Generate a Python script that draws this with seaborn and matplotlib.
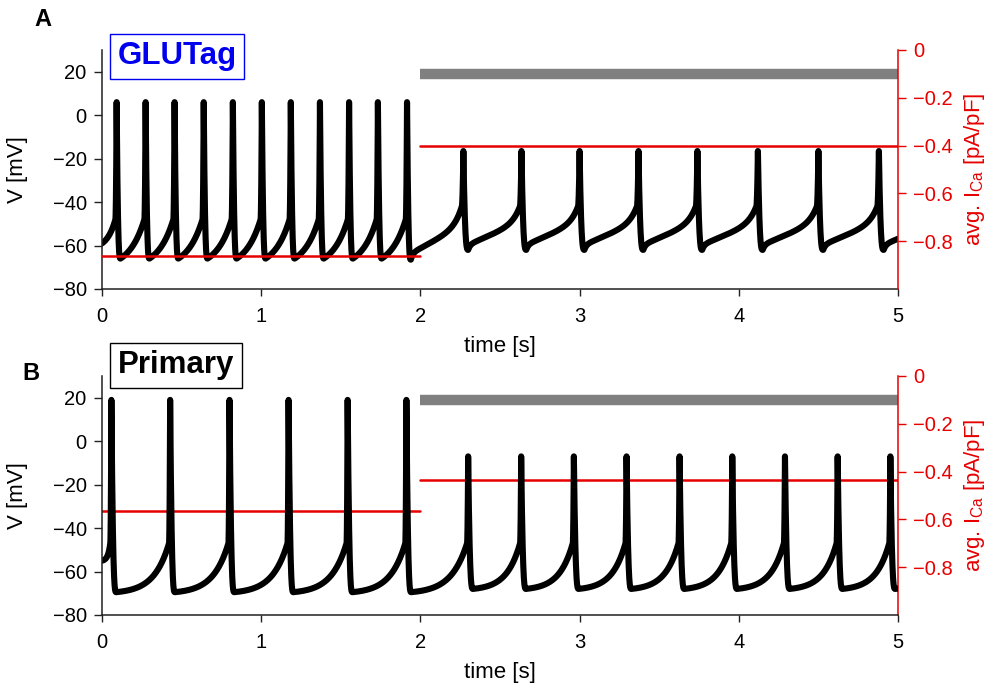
import numpy as np
import pandas as pd
import matplotlib
matplotlib.use("Agg")
import matplotlib.pyplot as plt
import seaborn as sns

# ---------------- data ----------------
stim_on = 2.0
t_end = 5.0

# Panel A: GLUTag
glutag_spike_t = [0.092, 0.274, 0.456, 0.639, 0.822, 1.004, 1.186, 1.369, 1.552, 1.733, 1.916,
                  2.270, 2.635, 3.000, 3.370, 3.740, 4.120, 4.500, 4.880]
glutag_peak = [6, 6, 6, 6, 6, 6, 6, 6, 6, 6, 6,
               -16.5, -16.5, -16.5, -16.5, -16.5, -16.5, -16.5, -16.5]
glutag_trough = [-66, -66, -66, -66, -66, -66, -66, -66, -66, -66, -66.5,
                 -62, -62, -62, -62, -62, -62, -62, -62]
glutag_thresh = [-48, -48, -48, -48, -48, -48, -48, -48, -48, -48, -48,
                 -42, -42, -42, -42, -42, -42, -42, -42]
glutag_v0 = -59.0
glutag_ica_start = [0.0, 2.0]
glutag_ica_stop = [2.0, 5.0]
glutag_ica = [-0.86, -0.40]

# Panel B: Primary
primary_spike_t = [0.059, 0.428, 0.801, 1.172, 1.543, 1.912,
                   2.300, 2.633, 2.964, 3.295, 3.628, 3.959, 4.290, 4.621, 4.952]
primary_peak = [19, 19, 19, 19, 19, 19,
                -7, -7, -7, -7, -7, -7, -7, -7, -7]
primary_trough = [-69.5, -69.5, -69.5, -69.5, -69.5, -69.5,
                  -68, -68, -68, -68, -68, -68, -68, -68, -68]
primary_thresh = [-47, -47, -47, -47, -47, -47,
                  -47, -47, -47, -47, -47, -47, -47, -47, -47]
primary_v0 = -55.0
primary_ica_start = [0.0, 2.0]
primary_ica_stop = [2.0, 5.0]
primary_ica = [-0.565, -0.435]

stim_level = -0.10  # grey bar position on the current axis

# waveform shape parameters (style of the trace between read values)
glutag_shape = [
    dict(kind="exp", k=1.6, du=0.008, df=0.024, period=0.182),
    dict(kind="mixed", a=0.12, b=0.50, c=0.38, tau=0.04, k=7.0, du=0.010, df=0.030, period=0.375),
]
primary_shape = [
    dict(kind="exp", k=3.5, du=0.007, df=0.030, period=0.371),
    dict(kind="exp", k=3.5, du=0.007, df=0.030, period=0.331),
]


def shape_frac(s, p):
    if p["kind"] == "exp":
        return np.expm1(p["k"] * s) / np.expm1(p["k"])
    a, b, c, tau, k = p["a"], p["b"], p["c"], p["tau"], p["k"]
    return (a * (-np.expm1(-s / tau)) / (-np.expm1(-1 / tau))
            + b * s + c * np.expm1(k * s) / np.expm1(k))


def build_trace(spike_t, peaks, troughs, threshs, v0, shapes):
    T, V = [], []
    ph = [shapes[int(t > stim_on)] for t in spike_t]
    n = len(spike_t)
    p0 = ph[0]
    ta, tb = 0.0, spike_t[0] - p0["du"]
    tt = np.linspace(ta, tb, 200)
    s = (tt - ta) / (tb - ta)
    T.append(tt); V.append(v0 + (threshs[0] - v0) * shape_frac(s, p0))
    for i in range(n):
        p = ph[i]
        tt = np.linspace(spike_t[i] - p["du"], spike_t[i], 30)
        u = (tt - tt[0]) / (tt[-1] - tt[0])
        T.append(tt); V.append(threshs[i] + (peaks[i] - threshs[i]) * u ** 2)
        tt = np.linspace(spike_t[i], spike_t[i] + p["df"], 40)
        u = (tt - tt[0]) / (tt[-1] - tt[0])
        T.append(tt); V.append(peaks[i] + (troughs[i] - peaks[i]) * (1 - (1 - u) ** 3))
        ta = spike_t[i] + p["df"]
        if i + 1 < n:
            q = ph[i + 1]
            tb = spike_t[i + 1] - q["du"]
            vb = threshs[i + 1]
            dur = tb - ta
        else:
            q = p
            dur = p["period"] - p["du"] - p["df"]
            tb = t_end + 0.01
            vb = threshs[i]
        tt = np.linspace(ta, tb, 300)
        s = (tt - ta) / dur
        T.append(tt); V.append(troughs[i] + (vb - troughs[i]) * shape_frac(s, q))
    return pd.DataFrame({"t": np.concatenate(T), "V": np.concatenate(V)})


# ---------------- style ----------------
sns.set_style("ticks")
plt.rcParams["font.family"] = ["Liberation Sans", "DejaVu Sans"]
plt.rcParams["mathtext.fontset"] = "custom"
plt.rcParams["mathtext.rm"] = "Liberation Sans"
plt.rcParams["mathtext.it"] = "Liberation Sans:italic"
plt.rcParams["axes.unicode_minus"] = True
plt.rcParams["text.color"] = "black"
plt.rcParams["axes.labelcolor"] = "black"

RED = "#e60000"
GREY = "#808080"
FS = 14.5

fig = plt.figure(figsize=(10.03, 6.86), dpi=100)
W = 1003.0
H = 686.0


def panel(rect, df, ica_start, ica_stop, ica, label_text, label_color, box_xy, letter,
          letter_xy, trace_on_top):
    ax = fig.add_axes(rect)
    sns.lineplot(data=df, x="t", y="V", ax=ax, color="black", lw=4.4,
                 estimator=None, sort=False, solid_capstyle="round", solid_joinstyle="round")
    ax.set_xlim(0, 5)
    ax.set_ylim(-80, 30)
    ax.set_xticks([0, 1, 2, 3, 4, 5])
    ax.set_xticklabels(["0", "1", "2", "3", "4", "5"])
    ax.set_yticks([-80, -60, -40, -20, 0, 20])
    ax.set_yticklabels(["\u221280", "\u221260", "\u221240", "\u221220", "0", "20"])
    ax.spines["top"].set_visible(False)
    ax.spines["right"].set_visible(False)
    for sp in ("left", "bottom"):
        ax.spines[sp].set_linewidth(1.1)
        ax.spines[sp].set_color("#222222")
    ax.tick_params(axis="y", direction="out", length=6, width=1.0, labelsize=FS, pad=5,
                   color="#222222", labelcolor="black")
    ax.tick_params(axis="x", direction="out", length=5, width=1.0, labelsize=FS, pad=8,
                   color="#222222", labelcolor="black")
    ax.set_xlabel("time [s]", fontsize=FS + 1.5)
    ax.set_ylabel("V [mV]", fontsize=FS + 1.5)
    ax.xaxis.set_label_coords(0.5, -0.195)
    ax.yaxis.set_label_coords(-0.093, 0.5)

    ax2 = ax.twinx()
    for x0, x1, y in zip(ica_start, ica_stop, ica):
        sns.lineplot(x=[x0, x1], y=[y, y], ax=ax2, color=RED, lw=1.8, estimator=None)
    sns.lineplot(x=[stim_on, t_end], y=[stim_level, stim_level], ax=ax2, color=GREY,
                 lw=7.5, estimator=None, solid_capstyle="butt")
    ax2.set_ylim(-1, 0)
    ax2.set_xlim(0, 5)
    ax2.set_yticks([-0.8, -0.6, -0.4, -0.2, 0])
    ax2.set_yticklabels(["\u22120.8", "\u22120.6", "\u22120.4", "\u22120.2", "0"])
    for sp in ("top", "left", "bottom"):
        ax2.spines[sp].set_visible(False)
    ax2.spines["right"].set_color(RED)
    ax2.spines["right"].set_linewidth(1.1)
    ax2.tick_params(axis="y", direction="out", length=6, width=1.0, labelsize=FS, pad=5,
                    colors=RED)
    ax2.set_ylabel(r"avg. I$_{\mathrm{Ca}}$ [pA/pF]", fontsize=FS + 1.5, color=RED)
    ax2.yaxis.set_label_coords(1.08, 0.5)
    if trace_on_top:
        ax2.set_zorder(ax.get_zorder() - 1)
        ax.patch.set_visible(False)

    fig.text(box_xy[0] / W, 1 - box_xy[1] / H, label_text, fontsize=22.5, fontweight="bold",
             color=label_color, ha="center", va="center",
             bbox=dict(boxstyle="square,pad=0.24", fc="white", ec=label_color, lw=1.0))
    fig.text(letter_xy[0] / W, 1 - letter_xy[1] / H, letter, fontsize=17, fontweight="bold",
             color="black", ha="center", va="center")
    return ax, ax2


ax_h = 0.3484
left = 102 / W
width = (898 - 102) / W

dfA = build_trace(glutag_spike_t, glutag_peak, glutag_trough, glutag_thresh, glutag_v0, glutag_shape)
dfB = build_trace(primary_spike_t, primary_peak, primary_trough, primary_thresh, primary_v0, primary_shape)

panel([left, 1 - 289 / H, width, ax_h], dfA, glutag_ica_start, glutag_ica_stop, glutag_ica,
      "GLUTag", "#0000ee", (177, 56), "A", (43, 19), False)
panel([left, 1 - 615 / H, width, ax_h], dfB, primary_ica_start, primary_ica_stop, primary_ica,
      "Primary", "black", (176, 365), "B", (31, 373), True)

fig.savefig("out.png", dpi=100)
